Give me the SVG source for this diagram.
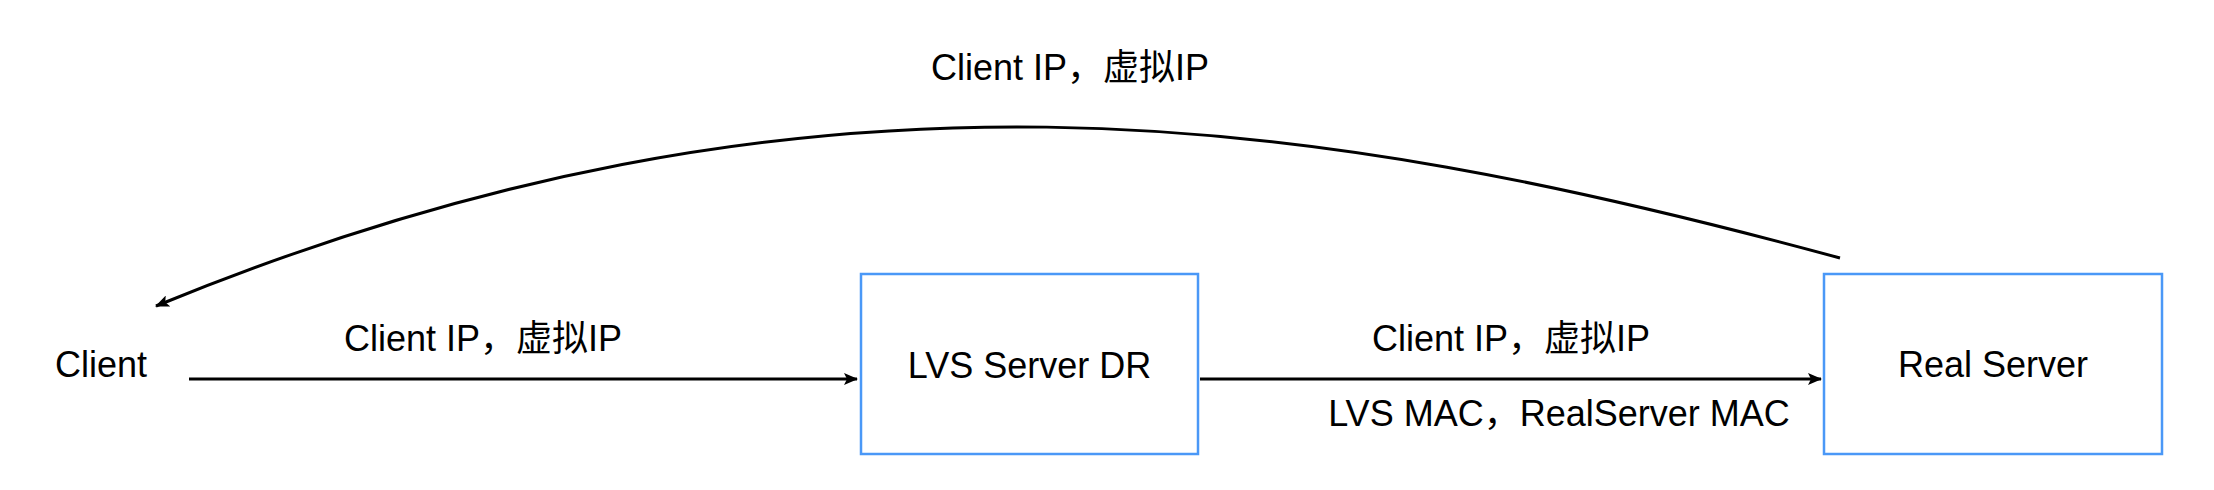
<svg xmlns="http://www.w3.org/2000/svg" width="2214" height="490" viewBox="0 0 2214 490">
<style>
text{font-family:"Liberation Sans",Arial,"Noto Sans CJK SC",sans-serif;font-size:36px;fill:#000;text-anchor:middle}
.box{fill:#fff;stroke:#4A98F7;stroke-width:2.5}
.edge{fill:none;stroke:#000;stroke-width:3}
</style>
<defs>
<marker id="arr" viewBox="0 0 14 12" refX="13" refY="6" markerWidth="14" markerHeight="12" markerUnits="userSpaceOnUse" orient="auto">
<path d="M0,0 L14,6 L0,12 L3,6 z" fill="#000"/>
</marker>
</defs>
<rect width="2214" height="490" fill="#fff"/>
<g id="connectors">
<path class="edge" d="M189,379 L857,379" marker-end="url(#arr)"/>
<path class="edge" d="M1200,379 L1821,379" marker-end="url(#arr)"/>
<path class="edge" d="M1840,258 C1313,115 813,36 156,306" marker-end="url(#arr)"/>
<text x="483" y="351">Client IP，虚拟IP</text>
<text x="1511" y="351">Client IP，虚拟IP</text>
<text x="1559" y="426">LVS MAC，RealServer MAC</text>
<text x="1070" y="80">Client IP，虚拟IP</text>
</g>
<g id="client">
<text x="101" y="377">Client</text>
</g>
<g id="lvs">
<rect class="box" x="861" y="274" width="337" height="180"/>
<text x="1029.5" y="378">LVS Server DR</text>
</g>
<g id="realserver">
<rect class="box" x="1824" y="274" width="338" height="180"/>
<text x="1993" y="377">Real Server</text>
</g>
</svg>
